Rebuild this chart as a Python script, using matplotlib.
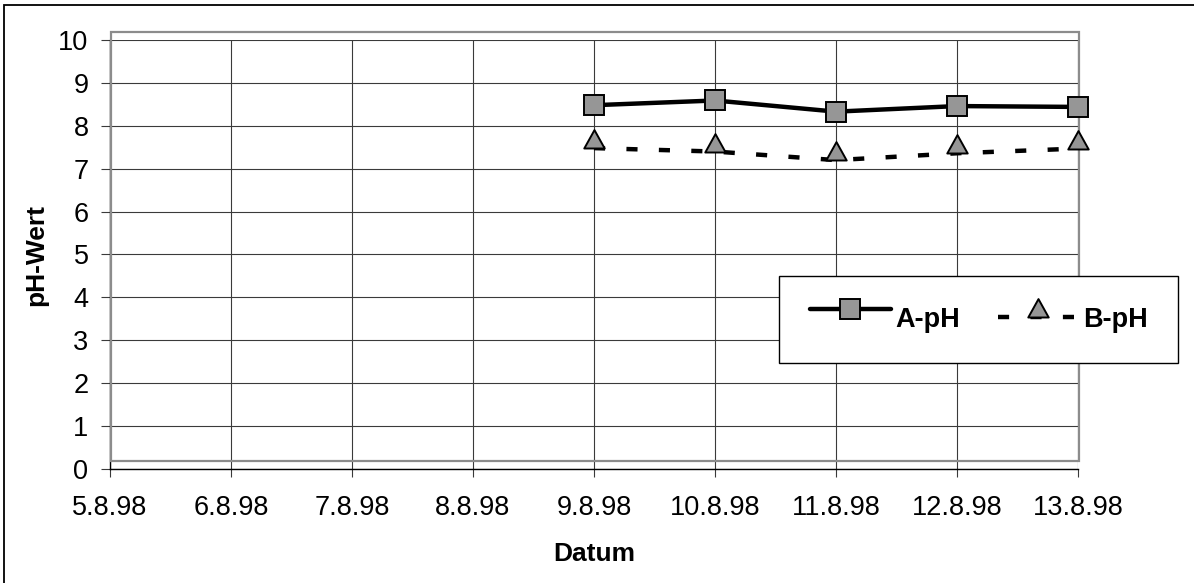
import matplotlib
matplotlib.use("Agg")
import matplotlib.pyplot as plt
import matplotlib.dates as mdates
from matplotlib.path import Path
from matplotlib.patches import Rectangle
from matplotlib.ticker import FuncFormatter, MultipleLocator
from matplotlib.legend_handler import HandlerLine2D
import matplotlib.transforms as mtransforms
import datetime as dt

plt.rcParams['font.family'] = ['Liberation Sans', 'DejaVu Sans']

# ---- data ----
dates = ["1998-08-09", "1998-08-10", "1998-08-11", "1998-08-12", "1998-08-13"]
a_ph = [8.48, 8.59, 8.33, 8.46, 8.44]
b_ph = [7.48, 7.40, 7.20, 7.36, 7.47]
series_names = ["A-pH", "B-pH"]
x_start = "1998-08-05"
x_end = "1998-08-13"
y_label = "pH-Wert"
x_label = "Datum"

W, H = 1194, 583
fig = plt.figure(figsize=(W / 100, H / 100), dpi=100)
ax = fig.add_axes([110 / W, 1 - 469 / H, 968 / W, 429 / H])

xd = [mdates.date2num(dt.datetime.fromisoformat(d)) for d in dates]
x0 = mdates.date2num(dt.datetime.fromisoformat(x_start))
x1 = mdates.date2num(dt.datetime.fromisoformat(x_end))

grey = "#969696"
tri = Path([(-1.0, 0.0), (1.0, 0.0), (0.0, 1.8), (-1.0, 0.0)],
           [Path.MOVETO, Path.LINETO, Path.LINETO, Path.CLOSEPOLY])

la, = ax.plot(xd, a_ph, color="black", lw=3.2, marker="s", ms=13.8,
              mfc=grey, mec="black", mew=1.4, solid_capstyle="round",
              label=series_names[0], zorder=5, clip_on=False)
lb, = ax.plot(xd, b_ph, color="black", lw=3.2, ls=(0, (2.5, 4.8)),
              dash_capstyle="butt", marker=tri, ms=26.5,
              mfc=grey, mec="black", mew=1.4,
              label=series_names[1], zorder=5, clip_on=False)

ax.set_xlim(x0, x1)
ax.set_ylim(0, 10)
ax.xaxis.set_major_locator(MultipleLocator(1))
ax.yaxis.set_major_locator(MultipleLocator(1))


def fmt(v, pos):
    d = mdates.num2date(v)
    return f"{d.day}.{d.month}.{d.year % 100:02d}"


ax.xaxis.set_major_formatter(FuncFormatter(fmt))

ax.grid(True, color="#3a3a3a", lw=0.8)
ax.set_axisbelow(True)
for s in ["top", "right"]:
    ax.spines[s].set_visible(False)
for s in ["left", "bottom"]:
    ax.spines[s].set_color("black")
    ax.spines[s].set_linewidth(1.0)

ax.tick_params(axis="y", direction="out", length=6.5, width=0.8,
               color="#3a3a3a", labelsize=19.5, pad=9)
ax.tick_params(axis="x", direction="out", length=6, width=0.8,
               color="#3a3a3a", labelsize=19.5, pad=13)

ax.set_ylabel(y_label, fontsize=19, fontweight="bold", labelpad=7.5)
ax.set_xlabel(x_label, fontsize=19, fontweight="bold", labelpad=15)

# grey plot-area frame (offset as in the original rendering)
off = mtransforms.offset_copy(ax.transAxes, fig=fig, x=1, y=8.5, units="dots")
ax.add_patch(Rectangle((0, 0), 1, 1, transform=off, fill=False,
                       ec="#8c8c8c", lw=1.6, clip_on=False, zorder=4))


class RaisedHandler(HandlerLine2D):
    def __init__(self, dy=0.0, **kw):
        super().__init__(**kw)
        self.dy = dy

    def create_artists(self, legend, orig_handle, xdescent, ydescent,
                       width, height, fontsize, trans):
        arts = super().create_artists(legend, orig_handle, xdescent, ydescent,
                                      width, height, fontsize, trans)
        for a in arts:
            a.set_ydata([y + self.dy for y in a.get_ydata()])
        return arts


leg = ax.legend(loc="upper left", bbox_to_anchor=(779 / W, 1 - 276 / H),
                bbox_transform=fig.transFigure, ncol=2, fancybox=False,
                edgecolor="black", framealpha=1, borderaxespad=0,
                prop={"weight": "bold", "size": 19.5}, handlelength=3.0,
                handletextpad=0.15, columnspacing=1.4, borderpad=1.13,
                numpoints=1,
                handler_map={la: RaisedHandler(dy=6.0),
                             lb: RaisedHandler(dy=0.0)})
leg.get_frame().set_linewidth(1.0)
leg.set_zorder(10)

# outer border
fig.patches.append(Rectangle((4 / W, -0.02), 1.02, 1 - 5 / H + 0.02,
                             transform=fig.transFigure, fill=False,
                             ec="black", lw=1.3))

fig.savefig("out.png", dpi=100)
